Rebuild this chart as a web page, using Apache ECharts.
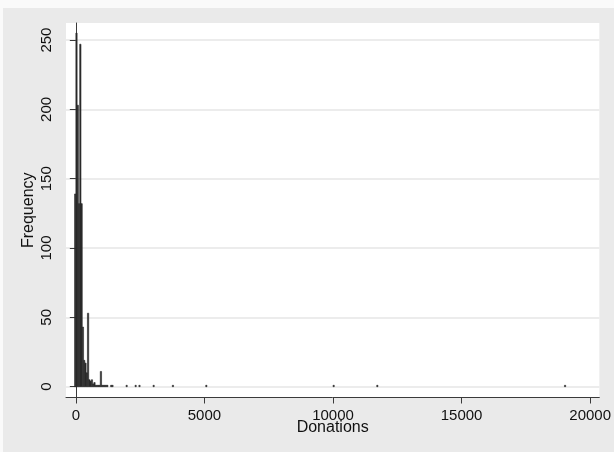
<!DOCTYPE html>
<html>
<head>
<meta charset="utf-8">
<script src="https://cdn.jsdelivr.net/npm/echarts@6/dist/echarts.min.js"></script>
<style>
  html, body { margin: 0; padding: 0; background: #fafafa; }
  #bg { position: absolute; left: 3px; top: 8px; width: 611px; height: 444px; background: #eaeaea; }
  #chart { position: absolute; left: 0; top: 0; width: 614px; height: 452px; }
</style>
</head>
<body>
<div id="bg"></div>
<div id="chart"></div>
<script>
// histogram bins: lower edge of each bin (width binWidth) and its frequency
const binWidth = 50
const binStart = [-50, 0, 50, 100, 150, 200, 250, 300, 350, 400, 450, 500, 550, 600, 650, 700,
  750, 800, 850, 900, 950, 1000, 1050, 1100, 1150, 1200, 1350, 1400, 1950, 2300, 2450, 3000,
  3750, 5050, 10000, 11700, 19000]
const freq = [139, 255, 203, 132, 247, 132, 43, 19, 17, 10, 53, 5, 4, 5, 2, 3,
  1, 1, 1, 1, 11, 1, 1, 1, 1, 1, 1, 1, 1, 1, 1, 1,
  1, 1, 1, 1, 1]

const xTicks = [0, 5000, 10000, 15000, 20000]
const yTicks = [0, 50, 100, 150, 200, 250]

const chart = echarts.init(document.getElementById('chart'))

const bars = binStart.map((s, i) => [s, s + binWidth, freq[i]])
const FONT = 'Liberation Sans, Arial, sans-serif'

chart.setOption({
  backgroundColor: 'transparent',
  animation: false,
  grid: {
    left: 66, right: 7, top: 23, bottom: 54.5,
    show: true, backgroundColor: '#ffffff', borderWidth: 0,
  },
  xAxis: {
    type: 'value',
    min: -383, max: 20357,
    name: 'Donations', nameLocation: 'middle', nameGap: 22, nameMoveOverlap: false,
    nameTextStyle: { color: '#111', fontSize: 16, fontFamily: FONT },
    axisLine: { show: true, onZero: false, lineStyle: { color: '#3a3a3a', width: 1 } },
    axisTick: { show: true, length: 6, customValues: xTicks, lineStyle: { color: '#3a3a3a' } },
    axisLabel: {
      customValues: xTicks, margin: 11, color: '#111', fontSize: 15, fontFamily: FONT,
      formatter: v => String(v),
    },
    splitLine: { show: false },
  },
  yAxis: {
    type: 'value',
    min: -7.8, max: 262.3,
    name: 'Frequency', nameLocation: 'middle', nameGap: 29, nameMoveOverlap: false,
    nameTextStyle: { color: '#111', fontSize: 16, fontFamily: FONT },
    axisLine: { show: true, lineStyle: { color: '#3a3a3a', width: 1 } },
    axisTick: { show: true, length: 6, customValues: yTicks, lineStyle: { color: '#3a3a3a' } },
    axisLabel: {
      customValues: yTicks, rotate: 90, margin: 12, color: '#111', fontSize: 15, fontFamily: FONT,
      formatter: v => String(v),
    },
    splitLine: { show: true, lineStyle: { color: '#e6e6e6', width: 1.5 } },
  },
  series: [{
    type: 'custom',
    data: bars,
    encode: { x: [0, 1], y: 2 },
    renderItem: (params, api) => {
      const top = api.coord([api.value(0), api.value(2)])
      const base = api.coord([api.value(1), 0])
      return {
        type: 'rect',
        shape: { x: top[0], y: top[1], width: base[0] - top[0], height: base[1] - top[1] },
        style: { fill: '#2a2a2a', stroke: '#2a2a2a', lineWidth: 0.6 },
      }
    },
  }],
})
</script>
</body>
</html>
